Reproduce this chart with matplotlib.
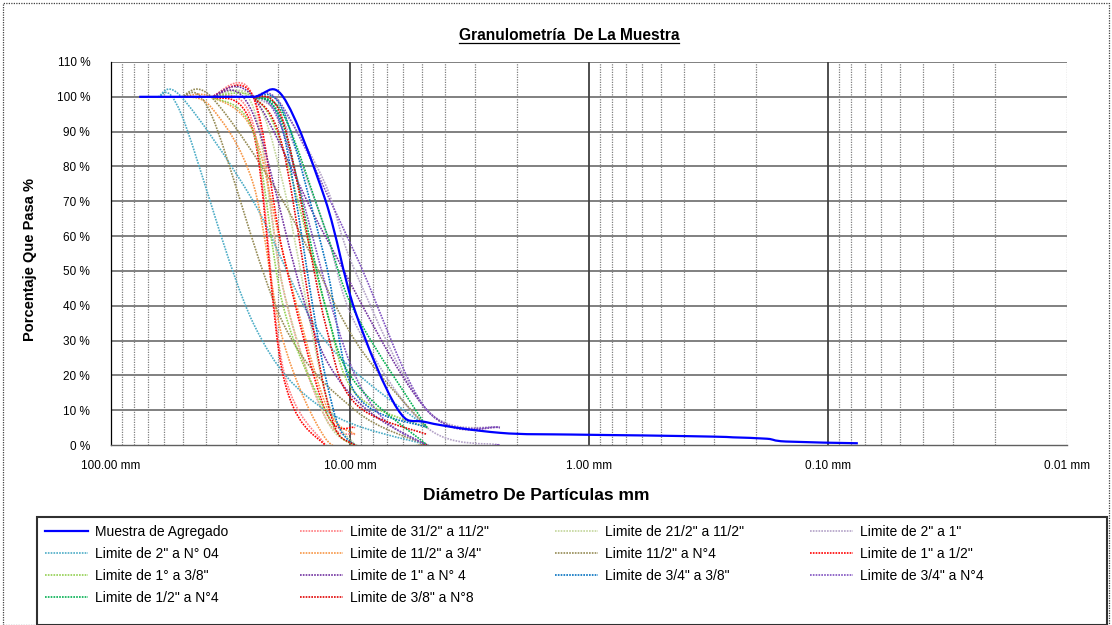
import numpy as np
import matplotlib
matplotlib.use("Agg")
import matplotlib.pyplot as plt
from matplotlib.path import Path
from matplotlib.patches import PathPatch, Rectangle
from matplotlib.lines import Line2D
from matplotlib.ticker import FixedLocator, NullFormatter

# ---------------- data (sieve opening mm, % passing) ----------------
muestra_mm = [76.2, 63.5, 50.8, 38.1, 25.4, 19.05, 12.7, 9.525, 6.35, 4.76, 2.36, 1.18, 0.6, 0.3, 0.25, 0.18, 0.15, 0.075]
muestra_pct = [100, 100, 100, 100, 100, 100, 70.5, 38.5, 10.5, 6.5, 3.5, 3.0, 2.75, 2.4, 2.2, 1.8, 1.0, 0.5]

lim_31_11_mm_u = [38.1, 25.4, 19.05, 12.7, 9.525]
lim_31_11_pct_u = [100, 100, 45, 8, 3]
lim_31_11_mm_l = [38.1, 25.4, 19.05, 12.7]
lim_31_11_pct_l = [100, 92, 22, 0]

lim_21_11_mm = [38.1, 25.4, 19.05, 12.7, 9.525]
lim_21_11_pct_u = [100, 100, 75, 15, 0]
lim_21_11_pct_l = [100, 97, 45, 8, 0]

lim_2_1_mm = [25.4, 19.05, 12.7, 9.525, 4.76, 2.36]
lim_2_1_pct_u = [100, 96, 75, 50, 10, 5]
lim_2_1_pct_l = [100, 93, 62, 35, 5, 0]

lim_2_n4_mm = [63.5, 50.8, 25.4, 12.7, 4.76]
lim_2_n4_pct_u = [100, 100, 70, 30, 5]
lim_2_n4_pct_l = [100, 95, 35, 10, 0]

lim_11_34_mm = [50.8, 38.1, 25.4, 19.05, 12.7, 9.525]
lim_11_34_pct_u = [100, 100, 90, 55, 12, 3]
lim_11_34_pct_l = [100, 97, 75, 30, 2, 0]

lim_11_n4_mm = [50.8, 38.1, 19.05, 9.525, 4.76]
lim_11_n4_pct_u = [100, 100, 70, 30, 5]
lim_11_n4_pct_l = [100, 95, 35, 10, 0]

lim_1_12_mm = [38.1, 25.4, 19.05, 12.7, 9.525]
lim_1_12_pct_u = [100, 100, 55, 10, 5]
lim_1_12_pct_l = [100, 90, 20, 0, 0]

lim_1_38_mm = [38.1, 25.4, 19.05, 12.7, 9.525, 4.76]
lim_1_38_pct_u = [100, 100, 85, 40, 15, 5]
lim_1_38_pct_l = [100, 90, 40, 10, 0, 0]

lim_1_n4_mm = [38.1, 25.4, 12.7, 4.76, 2.36]
lim_1_n4_pct_u = [100, 100, 60, 10, 5]
lim_1_n4_pct_l = [100, 95, 25, 0, 0]

lim_34_38_mm = [25.4, 19.05, 12.7, 9.525, 4.76]
lim_34_38_pct_u = [100, 96, 53, 15, 5]
lim_34_38_pct_l = [100, 90, 20, 0, 0]

lim_34_n4_mm = [25.4, 19.05, 9.525, 4.76, 2.36]
lim_34_n4_pct_u = [100, 97, 55, 10, 5]
lim_34_n4_pct_l = [100, 90, 20, 0, 0]

lim_12_n4_mm = [25.4, 19.05, 12.7, 9.525, 4.76]
lim_12_n4_pct_u = [100, 95, 62, 38, 5]
lim_12_n4_pct_l = [100, 92, 40, 18, 0]

lim_38_n8_mm = [25.4, 19.05, 12.7, 9.525, 4.76]
lim_38_n8_pct_u = [100, 93, 35, 12, 3]
lim_38_n8_pct_l = [100, 85, 15, 0, 0]

labels = [
    'Muestra de Agregado', 'Limite de 31/2" a 11/2"', 'Limite de 21/2" a 11/2"', 'Limite de 2" a 1"',
    'Limite de 2" a N° 04', 'Limite de 11/2" a 3/4"', 'Limite 11/2" a N°4', 'Limite de 1" a 1/2"',
    'Limite de 1° a 3/8"', 'Limite de 1" a N° 4', 'Limite de 3/4" a 3/8"', 'Limite de 3/4" a N°4',
    'Limite de 1/2" a N°4', 'Limite de 3/8" a N°8',
]
colors = [
    '#0000FF', '#FF7C80', '#C3D69B', '#B3A2C7',
    '#4BACC6', '#F79646', '#948A54', '#FF0000',
    '#92D050', '#7030A0', '#0070C0', '#7F50C0',
    '#00B050', '#E00000',
]
limit_curves = [
    [(lim_31_11_mm_u, lim_31_11_pct_u), (lim_31_11_mm_l, lim_31_11_pct_l)],
    [(lim_21_11_mm, lim_21_11_pct_u), (lim_21_11_mm, lim_21_11_pct_l)],
    [(lim_2_1_mm, lim_2_1_pct_u), (lim_2_1_mm, lim_2_1_pct_l)],
    [(lim_2_n4_mm, lim_2_n4_pct_u), (lim_2_n4_mm, lim_2_n4_pct_l)],
    [(lim_11_34_mm, lim_11_34_pct_u), (lim_11_34_mm, lim_11_34_pct_l)],
    [(lim_11_n4_mm, lim_11_n4_pct_u), (lim_11_n4_mm, lim_11_n4_pct_l)],
    [(lim_1_12_mm, lim_1_12_pct_u), (lim_1_12_mm, lim_1_12_pct_l)],
    [(lim_1_38_mm, lim_1_38_pct_u), (lim_1_38_mm, lim_1_38_pct_l)],
    [(lim_1_n4_mm, lim_1_n4_pct_u), (lim_1_n4_mm, lim_1_n4_pct_l)],
    [(lim_34_38_mm, lim_34_38_pct_u), (lim_34_38_mm, lim_34_38_pct_l)],
    [(lim_34_n4_mm, lim_34_n4_pct_u), (lim_34_n4_mm, lim_34_n4_pct_l)],
    [(lim_12_n4_mm, lim_12_n4_pct_u), (lim_12_n4_mm, lim_12_n4_pct_l)],
    [(lim_38_n8_mm, lim_38_n8_pct_u), (lim_38_n8_mm, lim_38_n8_pct_l)],
]

x_ticks = [100, 10, 1, 0.1, 0.01]
x_ticklabels = ['100.00 mm', '10.00 mm', '1.00 mm', '0.10 mm', '0.01 mm']
y_ticks = list(range(0, 111, 10))

# ---------------- figure ----------------
W, H = 1112, 625
REG = ['Liberation Sans', 'DejaVu Sans']
plt.rcParams['font.family'] = REG

fig = plt.figure(figsize=(W / 100, H / 100), dpi=100)
ax = fig.add_axes([111 / W, 1 - 445 / H, (1067 - 111) / W, (445 - 62) / H])
ax.set_xscale('log')
ax.set_xlim(100, 0.01)
ax.set_ylim(0, 110)


def smooth_path(xs, ys):
    """Excel-like smoothed line: cubic Bezier segments through the data points (log-x)."""
    lx = np.log10(np.asarray(xs, float))
    yy = np.asarray(ys, float)
    P = np.column_stack([lx, yy])
    n = len(P)
    verts = [P[0]]
    codes = [Path.MOVETO]
    for i in range(n - 1):
        p0 = P[max(i - 1, 0)]
        p1 = P[i]
        p2 = P[i + 1]
        p3 = P[min(i + 2, n - 1)]
        c1 = p1 + (p2 - p0) / 6.0
        c2 = p2 - (p3 - p1) / 6.0
        verts += [c1, c2, p2]
        codes += [Path.CURVE4] * 3
    V = np.array(verts)
    V[:, 0] = 10 ** V[:, 0]
    return Path(V, codes)


DOT = (0, (1, 0.7))

# grid
for yv in y_ticks[1:]:
    ax.axhline(yv, color='#808080', lw=1.4, zorder=1)
minor = [k * 10.0 ** e for e in (-2, -1, 0, 1) for k in range(2, 10)]
for xv in minor:
    ax.axvline(xv, color='#808080', lw=0.9, ls=(0, (1, 1)), zorder=1)
for xv in [10, 1, 0.1]:
    ax.axvline(xv, color='#404040', lw=1.3, zorder=1)
ax.axvline(0.01, color='#808080', lw=0.9, ls=(0, (1, 1)), zorder=1)

# limit curves
for (curves, col) in zip(limit_curves, colors[1:]):
    for xs, ys in curves:
        ax.add_patch(PathPatch(smooth_path(xs, ys), fill=False, edgecolor=col,
                               lw=1.2, ls=DOT, zorder=3))

# sample curve
ax.add_patch(PathPatch(smooth_path(muestra_mm, muestra_pct), fill=False,
                       edgecolor=colors[0], lw=1.6, zorder=4))

handles = [Line2D([], [], color=colors[0], lw=1.6)] + \
          [Line2D([], [], color=c, lw=1.2, ls=DOT) for c in colors[1:]]

# axes styling
ax.xaxis.set_major_locator(FixedLocator(x_ticks))
ax.xaxis.set_minor_locator(FixedLocator([]))
ax.xaxis.set_minor_formatter(NullFormatter())
ax.set_xticks(x_ticks)
ax.set_xticklabels(x_ticklabels)
ax.set_yticks(y_ticks)
ax.set_yticklabels([f'{v} %' for v in y_ticks])
for lab in ax.get_xticklabels() + ax.get_yticklabels():
    lab.set_fontsize(8.5)
ax.tick_params(axis='y', length=0, pad=15)
ax.tick_params(axis='x', length=0, pad=11)
ax.spines['top'].set_visible(False)
ax.spines['right'].set_visible(False)
ax.spines['left'].set_color('#000000')
ax.spines['left'].set_linewidth(0.9)
ax.spines['bottom'].set_color('#606060')
ax.spines['bottom'].set_linestyle((0, (1, 1)))
ax.spines['bottom'].set_linewidth(1.0)

# titles
title = fig.text(569 / W, 1 - 36 / H, 'Granulometría  De La Muestra', ha='center', va='center',
                 fontsize=11.2, fontweight='bold')
fig.text(536 / W, 1 - 496 / H, 'Diámetro De Partículas mm', ha='center', va='center',
         fontsize=12.5, fontweight='bold')
fig.text(30 / W, 1 - 260 / H, 'Porcentaje Que Pasa %', ha='center', va='center',
         rotation=90, fontsize=10.5, fontweight='bold')

# outer dotted border of the chart area
fig.add_artist(Rectangle((3 / W, 0), (W - 6) / W, (H - 3) / H, transform=fig.transFigure,
                         fill=False, edgecolor='#404040', lw=0.9, ls=(0, (1, 1))))

# legend frame
fig.add_artist(Rectangle((37 / W, 0), (1107 - 37) / W, (H - 517) / H, transform=fig.transFigure,
                         fill=True, facecolor='white', edgecolor='#303030', lw=1.5, zorder=2))

# legend columns (row-major order as in the reference)
col_x = [45, 300, 555, 810]
for c in range(4):
    idx = list(range(c, len(labels), 4))
    leg = fig.legend([handles[i] for i in idx], [labels[i] for i in idx],
                     loc='upper left', bbox_to_anchor=(col_x[c] / W, 1 - 525 / H),
                     frameon=False, fontsize=10, handlelength=3.1, handletextpad=0.5,
                     labelspacing=0.58, borderpad=0, borderaxespad=0)
    leg.set_zorder(5)

# underline the title
fig.canvas.draw()
bb = title.get_window_extent(renderer=fig.canvas.get_renderer())
fig.add_artist(Line2D([bb.x0 / W, bb.x1 / W], [(bb.y0 + 1) / H, (bb.y0 + 1) / H],
                      transform=fig.transFigure, color='black', lw=0.9))

fig.savefig('out.png', dpi=100)
